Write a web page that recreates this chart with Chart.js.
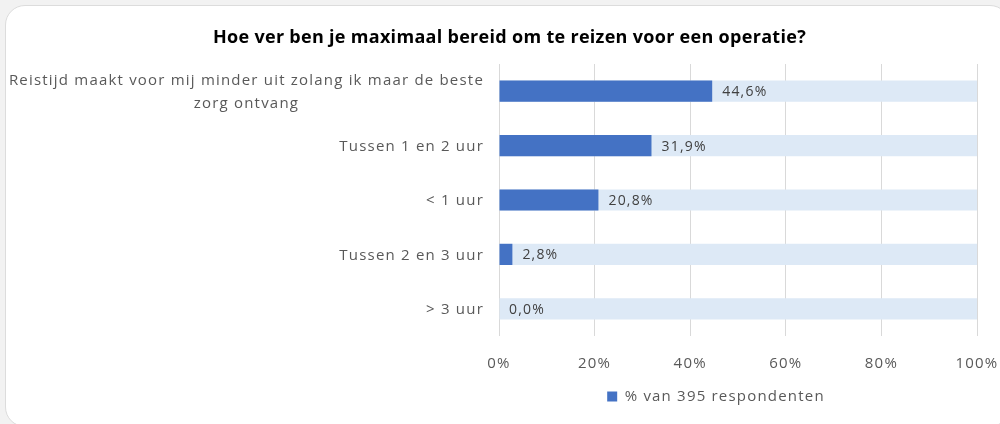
<!DOCTYPE html>
<html>
<head>
<meta charset="utf-8">
<script src="https://cdn.jsdelivr.net/npm/chart.js@4.4.0/dist/chart.umd.min.js"></script>
<style>
  html, body { margin: 0; padding: 0; background: #f2f2f2; width: 1000px; height: 424px; overflow: hidden; }
  #card { position: absolute; left: 5px; top: 5px; width: 1005px; height: 422px; background: #fff;
          border-radius: 20px; border: 1px solid #dcdcdc; box-sizing: border-box; }
  #wrap { position: absolute; left: 0; top: 0; width: 1000px; height: 424px; }
</style>
</head>
<body>
<div id="card"></div>
<div id="wrap"><canvas id="c" width="1000" height="424"></canvas></div>
<script>
const titleText = 'Hoe ver ben je maximaal bereid om te reizen voor een operatie?';
const categories = [
  ['Reistijd maakt voor mij minder uit zolang ik maar de beste', 'zorg ontvang'],
  'Tussen 1 en 2 uur',
  '< 1 uur',
  'Tussen 2 en 3 uur',
  '> 3 uur'
];
const seriesName = '% van 395 respondenten';
const values = [44.6, 31.9, 20.8, 2.8, 0.0];
const fullScale = [100, 100, 100, 100, 100];
const xTicks = [0, 20, 40, 60, 80, 100];

const labelFont = '15px "Open Sans"';
const labelColor = '#595959';
const textSpacing = '1.2px';
const titleSpacing = '0.3px';

const spacingPlugin = {
  id: 'spacing',
  beforeUpdate(chart) { chart.ctx.letterSpacing = textSpacing; },
  beforeDraw(chart) {
    chart.ctx.letterSpacing = textSpacing;
    const tb = chart.titleBlock;
    if (tb && !tb._wrapped) {
      const orig = tb.draw.bind(tb);
      tb.draw = function () {
        const ctx = chart.ctx;
        ctx.save();
        ctx.letterSpacing = titleSpacing;
        orig();
        ctx.restore();
      };
      tb._wrapped = true;
    }
  }
};

const yLabelPlugin = {
  id: 'yLabels',
  afterDraw(chart) {
    const ys = chart.scales.y;
    const ctx = chart.ctx;
    ctx.save();
    ctx.letterSpacing = textSpacing;
    ctx.font = labelFont;
    ctx.fillStyle = labelColor;
    ctx.textAlign = 'center';
    ctx.textBaseline = 'middle';
    const lh = 23;
    const pad = 15;
    ys.ticks.forEach((t, i) => {
      const lab = chart.data.labels[i];
      const lines = Array.isArray(lab) ? lab : [lab];
      const w = Math.max(...lines.map(l => ctx.measureText(l).width));
      const cx = ys.right - pad - w / 2;
      const cy = ys.getPixelForTick(i);
      lines.forEach((l, j) => {
        ctx.fillText(l, cx, cy + (j - (lines.length - 1) / 2) * lh + 1);
      });
    });
    ctx.restore();
  }
};

const dataLabelPlugin = {
  id: 'dataLabels',
  afterDatasetsDraw(chart) {
    const meta = chart.getDatasetMeta(0);
    const ctx = chart.ctx;
    ctx.save();
    ctx.letterSpacing = textSpacing;
    ctx.font = '14px "Open Sans"';
    ctx.fillStyle = '#404040';
    ctx.textAlign = 'left';
    ctx.textBaseline = 'middle';
    meta.data.forEach((bar, i) => {
      const v = chart.data.datasets[0].data[i];
      ctx.fillText(v.toFixed(1).replace('.', ',') + '%', bar.x + 10, bar.y + 1);
    });
    ctx.restore();
  }
};

const boxShift = {
  id: 'boxShift',
  afterLayout(chart) {
    const lg = chart.legend;
    if (lg) {
      const center = 716, half = 260;
      lg.left = center - half;
      lg.right = center + half;
      lg.width = half * 2;
    }
    const tb = chart.titleBlock;
    if (tb) {
      tb.left = 19;
      tb.right = 1000;
      tb.width = tb.right - tb.left;
    }
  }
};

new Chart(document.getElementById('c'), {
  type: 'bar',
  data: {
    labels: categories,
    datasets: [
      {
        label: seriesName,
        data: values,
        backgroundColor: '#4472c4',
        borderWidth: 0,
        categoryPercentage: 1,
        barPercentage: 0.39,
        order: 0
      },
      {
        label: 'bg',
        data: fullScale,
        backgroundColor: '#dde9f6',
        borderWidth: 0,
        categoryPercentage: 1,
        barPercentage: 0.39,
        order: 1
      }
    ]
  },
  options: {
    indexAxis: 'y',
    responsive: false,
    animation: false,
    devicePixelRatio: 1,
    layout: { padding: { top: 27, right: 23, bottom: 10, left: 0 } },
    scales: {
      x: {
        min: 0, max: 100,
        afterBuildTicks(scale) { scale.ticks = xTicks.map(v => ({ value: v })); },
        ticks: {
          callback: v => v + '%',
          font: { family: 'Open Sans', size: 15 },
          color: labelColor,
          padding: 19,
          maxRotation: 0
        },
        grid: { color: '#d9d9d9', lineWidth: 1, drawTicks: false },
        border: { display: false },
        afterFit(scale) { scale.height = 37; scale.paddingRight = 0; scale.paddingLeft = 0; }
      },
      y: {
        stacked: true,
        grid: { display: false, drawTicks: false },
        border: { display: false },
        ticks: { color: 'transparent', font: { family: 'Open Sans', size: 15 }, padding: 15 },
        afterFit(scale) { scale.width = 499; }
      }
    },
    plugins: {
      title: {
        display: true,
        text: titleText,
        color: '#000000',
        font: { family: 'Open Sans', size: 18, weight: 'bold', lineHeight: 1.2 },
        padding: { top: 0, bottom: 15.4 }
      },
      legend: {
        position: 'bottom',
        labels: {
          filter: item => item.datasetIndex === 0,
          boxWidth: 10,
          boxHeight: 10,
          padding: 16,
          color: labelColor,
          font: { family: 'Open Sans', size: 15 }
        }
      },
      tooltip: { enabled: false }
    }
  },
  plugins: [spacingPlugin, yLabelPlugin, dataLabelPlugin, boxShift]
});
</script>
</body>
</html>
